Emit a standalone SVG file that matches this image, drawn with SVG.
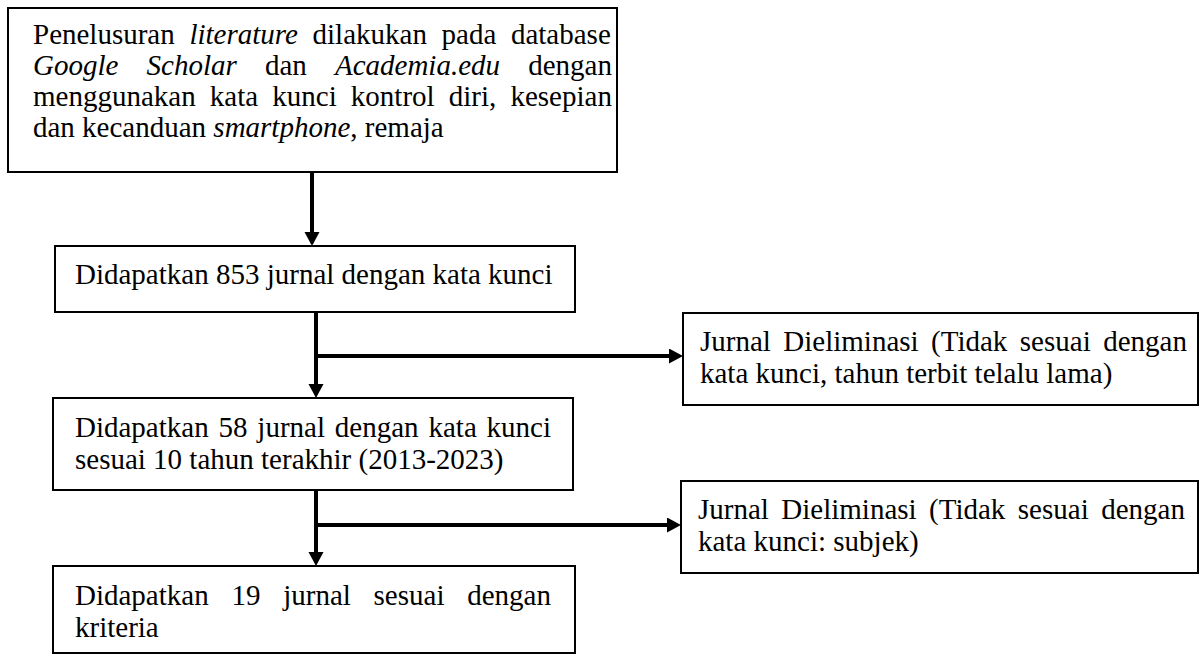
<svg xmlns="http://www.w3.org/2000/svg" width="1200" height="656" viewBox="0 0 1200 656">
<style>
.box{fill:#fff;stroke:#000;stroke-width:2}
.t{font-family:'Liberation Serif','Times New Roman',serif;font-size:29px;fill:#000}
.i{font-style:italic}
.c{fill:none;stroke:#000;stroke-width:4}
</style>
<defs>
<marker id="ah" markerUnits="userSpaceOnUse" markerWidth="16" markerHeight="16" refX="4" refY="7.5" orient="auto">
<path d="M0,0 L14,7.5 L0,15 Z" fill="#000"/>
</marker>
</defs>
<rect width="1200" height="656" fill="#fff"/>
<g id="connectors">
<line class="c" x1="312" y1="172" x2="312" y2="236" marker-end="url(#ah)"/>
<line class="c" x1="316" y1="312" x2="316" y2="388" marker-end="url(#ah)"/>
<line class="c" x1="314" y1="356" x2="673" y2="356" marker-end="url(#ah)"/>
<line class="c" x1="316" y1="490" x2="316" y2="556" marker-end="url(#ah)"/>
<line class="c" x1="314" y1="525" x2="671" y2="525" marker-end="url(#ah)"/>
</g>
<g id="n1">
<rect class="box" x="8" y="8" width="609" height="164"/>
<text class="t" x="33" y="44" word-spacing="7.4">Penelusuran <tspan class="i">literature</tspan> dilakukan pada database</text>
<text class="t" x="33" y="75" word-spacing="20.9"><tspan class="i">Google Scholar</tspan> dan <tspan class="i">Academia.edu</tspan> dengan</text>
<text class="t" x="33" y="106" word-spacing="6.9">menggunakan kata kunci kontrol diri, kesepian</text>
<text class="t" x="33" y="137">dan kecanduan <tspan class="i">smartphone</tspan>, remaja</text>
</g>
<g id="n2">
<rect class="box" x="55" y="246" width="520" height="66"/>
<text class="t" x="75" y="284">Didapatkan 853 jurnal dengan kata kunci</text>
</g>
<g id="n3">
<rect class="box" x="683" y="313" width="515" height="92"/>
<text class="t" x="700" y="351" word-spacing="5.2">Jurnal Dieliminasi (Tidak sesuai dengan</text>
<text class="t" x="700" y="383">kata kunci, tahun terbit telalu lama)</text>
</g>
<g id="n4">
<rect class="box" x="53" y="398" width="520" height="92"/>
<text class="t" x="75" y="437" word-spacing="2.6">Didapatkan 58 jurnal dengan kata kunci</text>
<text class="t" x="75" y="469">sesuai 10 tahun terakhir (2013-2023)</text>
</g>
<g id="n5">
<rect class="box" x="681" y="481" width="517" height="92"/>
<text class="t" x="698" y="519" word-spacing="5.2">Jurnal Dieliminasi (Tidak sesuai dengan</text>
<text class="t" x="698" y="551">kata kunci: subjek)</text>
</g>
<g id="n6">
<rect class="box" x="53" y="566" width="522" height="87"/>
<text class="t" x="75" y="605" word-spacing="15.5">Didapatkan 19 jurnal sesuai dengan</text>
<text class="t" x="75" y="637">kriteria</text>
</g>
</svg>
